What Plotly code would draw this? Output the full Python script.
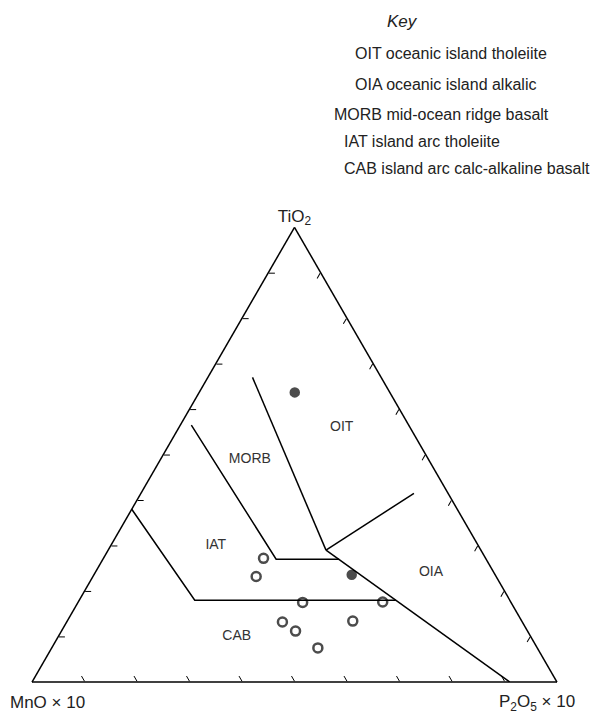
import plotly.graph_objects as go

# samples (TiO2, MnO x 10, P2O5 x 10)
ti = [0.637, 0.272, 0.232, 0.236, 0.175, 0.176, 0.132, 0.112, 0.134, 0.075]
mn = [0.181, 0.423, 0.457, 0.273, 0.397, 0.244, 0.457, 0.442, 0.322, 0.418]
p = [0.182, 0.305, 0.311, 0.491, 0.428, 0.580, 0.411, 0.446, 0.544, 0.507]
filled = [True, False, False, True, False, False, False, False, False, False]

# field boundaries
cab_ti = [0.38, 0.18, 0.18]
cab_mn = [0.62, 0.60, 0.217]
cab_p = [0.00, 0.22, 0.603]

iat_ti = [0.565, 0.27, 0.27]
iat_mn = [0.414, 0.40, 0.28]
iat_p = [0.021, 0.33, 0.45]

morb_ti = [0.67, 0.29]
morb_mn = [0.245, 0.295]
morb_p = [0.085, 0.415]

oit_ti = [0.29, 0.415]
oit_mn = [0.295, 0.065]
oit_p = [0.415, 0.52]

oia_ti = [0.29, 0.00]
oia_mn = [0.295, 0.09]
oia_p = [0.415, 0.91]

# field labels
field_names = ["OIT", "MORB", "IAT", "OIA", "CAB"]
field_ti = [0.56, 0.49, 0.30, 0.24, 0.10]
field_mn = [0.13, 0.34, 0.50, 0.12, 0.56]
field_p = [0.31, 0.17, 0.20, 0.64, 0.34]

tick_vals = [0.1, 0.2, 0.3, 0.4, 0.5, 0.6, 0.7, 0.8, 0.9]

key_lines = [
    "OIT oceanic island tholeiite",
    "OIA oceanic island alkalic",
    "MORB mid-ocean ridge basalt",
    "IAT island arc tholeiite",
    "CAB island arc calc-alkaline basalt",
]
key_x = [0.611, 0.611, 0.571, 0.590, 0.590]
key_y = [0.950, 0.903, 0.858, 0.816, 0.776]

fig = go.Figure()

line_style = dict(color="black", width=1.5)
for a, b, c in [(cab_ti, cab_mn, cab_p), (iat_ti, iat_mn, iat_p),
                (morb_ti, morb_mn, morb_p), (oit_ti, oit_mn, oit_p),
                (oia_ti, oia_mn, oia_p)]:
    fig.add_trace(go.Scatterternary(a=a, b=b, c=c, mode="lines",
                                    line=line_style, hoverinfo="skip"))

fig.add_trace(go.Scatterternary(
    a=field_ti, b=field_mn, c=field_p, mode="text", text=field_names,
    textfont=dict(size=14, color="#333333", family="Liberation Sans"),
    hoverinfo="skip"))

fig.add_trace(go.Scatterternary(
    a=ti, b=mn, c=p, mode="markers",
    marker=dict(symbol=["circle" if f else "circle-open" for f in filled],
                size=[8 if f else 9 for f in filled], color="black",
                line=dict(color="black", width=2.5))))

axis = dict(showgrid=False, showticklabels=False, ticks="inside", ticklen=6,
            tickwidth=1.2, tickcolor="black", linecolor="black", linewidth=1.5,
            tickmode="array", tickvals=tick_vals, min=0)

# page body adds 8px, so the figure is a little smaller than the window
fig.update_layout(
    width=588, height=708,
    showlegend=False,
    paper_bgcolor="white",
    font=dict(family="Liberation Sans", color="#222222"),
    margin=dict(l=24, r=39, t=12, b=34),
    ternary=dict(
        sum=1,
        bgcolor="white",
        domain=dict(x=[0, 1], y=[0, 0.6868]),
        aaxis=dict(axis, title=dict(text="TiO<sub>2</sub>", font=dict(size=17))),
        baxis=dict(axis, title=dict(text="")),
        caxis=dict(axis, title=dict(text="")),
    ),
)

# corner labels of the base, set inward as in the original
fig.add_annotation(x=-0.0457, y=-0.0317, xref="paper", yref="paper",
                   text="MnO × 10", showarrow=False, xanchor="left",
                   yanchor="middle", font=dict(size=17, color="#222222"))
fig.add_annotation(x=1.038, y=-0.0317, xref="paper", yref="paper",
                   text="P<sub>2</sub>O<sub>5</sub> × 10", showarrow=False,
                   xanchor="right", yanchor="middle",
                   font=dict(size=17, color="#222222"))

fig.add_annotation(x=0.672, y=0.997, xref="paper", yref="paper", text="<i>Key</i>",
                   showarrow=False, xanchor="left", yanchor="middle",
                   font=dict(size=17, color="#222222"))
for txt, kx, ky in zip(key_lines, key_x, key_y):
    fig.add_annotation(x=kx, y=ky, xref="paper", yref="paper", text=txt,
                       showarrow=False, xanchor="left", yanchor="middle",
                       font=dict(size=16, color="#222222"))

fig.write_html("out.html")
